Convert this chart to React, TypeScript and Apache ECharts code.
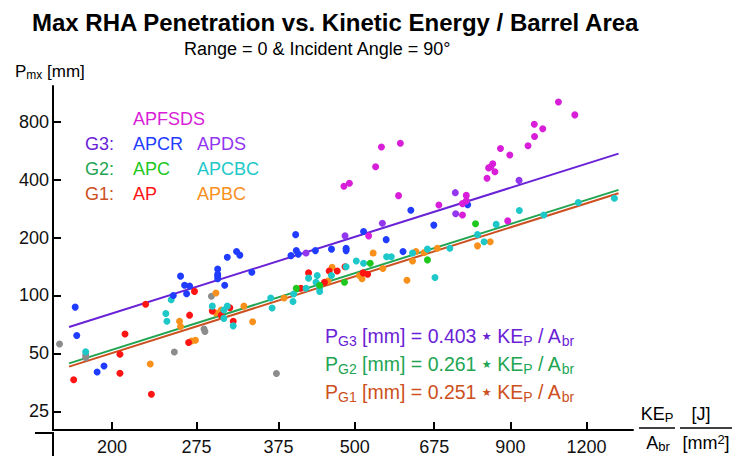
import React, { useEffect, useRef } from "react";
import * as echarts from "echarts";

const FONT = '"Liberation Sans", Arial, Helvetica, sans-serif';

// Axis tick labels
const xTicks = [200, 275, 375, 500, 675, 900, 1200];
const yTicks = [25, 50, 100, 200, 400, 800];

// [KE_P / A_br (J/mm^2), P_mx (mm)]
const apfsds = [
  [1079, 1011], [1148, 867], [985, 776], [1017, 735], [986, 670], [962, 600],
  [867, 580], [898, 537], [842, 483], [829, 460], [836, 466], [849, 439],
  [824, 406], [687, 295], [762, 331], [762, 310], [751, 300], [751, 262],
  [891, 244], [553, 590], [594, 617], [541, 466], [480, 369], [490, 383],
  [590, 330], [527, 204],
];
const apds = [[930, 396], [731, 342], [732, 266], [555, 237], [482, 204], [416, 166]];
const apcr = [
  [174, 87], [175, 62], [189, 40], [194, 43], [252, 100], [259, 126], [263, 113],
  [265, 102], [268, 112], [298, 137], [298, 129], [298, 126], [298, 122], [306, 113],
  [309, 158], [320, 169], [324, 162], [339, 132], [393, 161], [400, 207], [401, 171],
  [404, 164], [431, 171], [458, 174], [484, 176], [484, 171], [517, 215], [563, 195],
  [600, 169], [618, 277], [674, 232], [766, 296],
];
const ap = [
  [173, 36.5], [206, 49.5], [206, 39.4], [210, 63], [232, 30.7], [227, 90], [273, 105],
  [268, 79], [267, 57], [292, 83], [302, 79], [312, 86.4], [316, 73.4], [408, 109],
  [420, 131], [454, 134], [468, 134], [482, 141], [446, 117], [516, 131], [525, 129],
];
const apc = [[401, 109], [438, 113], [481, 117], [530, 147], [658, 153], [789, 236]];
const apcbc = [
  [181, 51], [245, 80.5], [246, 73.4], [250, 95], [292, 88], [305, 84], [309, 88],
  [305, 76], [316, 69.5], [364, 97], [366, 86], [396, 93], [397, 101.7], [416, 109],
  [420, 123], [434, 127], [458, 127], [484, 141], [503, 151], [517, 147], [564, 159],
  [574, 159], [622, 166], [658, 174], [677, 124], [438, 110], [438, 105], [432, 117],
  [716, 176], [795, 207], [815, 190], [853, 234], [931, 276], [1021, 262], [1163, 304],
  [1333, 320],
];
const apbc = [
  [231, 44], [258, 73.4], [259, 69], [270, 58], [274, 58.5], [296, 103], [296, 81],
  [302, 84], [329, 88], [340, 73], [383, 97], [452, 119], [459, 140], [509, 127],
  [514, 122], [536, 166], [556, 138], [609, 120], [622, 151], [630, 169], [650, 167],
  [683, 176], [795, 181], [834, 190],
];
const other = [[164, 56], [181, 49], [181, 47.5], [253, 50.8], [283, 67], [284, 65], [291, 99], [372, 39.3]];

// Fit lines P = k * KE/A
const coefG3 = 0.403;
const coefG2 = 0.261;
const coefG1 = 0.251;
const fitX = [170, 1354];

const C = {
  apfsds: "#d81ed8",
  apds: "#9336f0",
  apcr: "#1f3cff",
  ap: "#ff1414",
  apc: "#1ec81e",
  apcbc: "#1ec8c8",
  apbc: "#f8901c",
  other: "#8c8c8c",
  g3: "#6a22d6",
  g2: "#22a552",
  g1: "#cc5020",
};

function fitLine(k: number) {
  return fitX.map((x) => [x, k * x]);
}

export default function App() {
  const ref = useRef<HTMLDivElement>(null);
  useEffect(() => {
    if (!ref.current) return;
    const chart = echarts.init(ref.current, undefined, { renderer: "svg" });

    const scatter = (name: string, data: number[][], color: string) => ({
      name,
      type: "scatter",
      data,
      symbolSize: 7,
      itemStyle: { color, opacity: 1 },
      z: 3,
    });
    const line = (name: string, k: number, color: string) => ({
      name,
      type: "line",
      data: fitLine(k),
      symbol: "none",
      lineStyle: { color, width: 2 },
      z: 2,
    });

    const legendText = (x: number, y: number, text: string, color: string) => ({
      type: "text",
      x,
      y,
      style: { text, fill: color, font: `18px ${FONT}`, verticalAlign: "middle", textAlign: "left" },
    });

    const eq = (y: number, g: string, k: string, color: string) => ({
      type: "text",
      x: 325,
      y,
      style: {
        text: `{m|P}{s|${g}}{m| [mm] = ${k} }{st|★}{m| KE}{s|P}{m| / A}{s|br}`,
        verticalAlign: "middle",
        textAlign: "left",
        rich: {
          m: { fontSize: 19.5, fontFamily: FONT, fill: color, lineHeight: 24 },
          st: { fontSize: 11, fontFamily: '"DejaVu Sans", sans-serif', fill: color, lineHeight: 24 },
          s: { fontSize: 14, fontFamily: FONT, fill: color, lineHeight: 14, verticalAlign: "bottom" },
        },
      },
    });

    const frac = (x: number, y: number, text: string) => ({
      type: "text", x, y,
      style: {
        text, textAlign: "center", verticalAlign: "middle",
        rich: {
          m: { fontSize: 18, fontFamily: FONT, fill: "#000", lineHeight: 20 },
          s: { fontSize: 13, fontFamily: FONT, fill: "#000", lineHeight: 13, verticalAlign: "bottom" },
          p: { fontSize: 13, fontFamily: FONT, fill: "#000", lineHeight: 13, verticalAlign: "top" },
        },
      },
    });

    chart.setOption({
      animation: false,
      grid: { left: 53, right: 112, top: 86, bottom: 23, containLabel: false },
      xAxis: {
        type: "log",
        logBase: 10,
        min: 160,
        max: 1430,
        axisLine: { onZero: false, lineStyle: { color: "#000", width: 2 } },
        axisTick: { inside: true, length: 8, customValues: xTicks, lineStyle: { color: "#000", width: 2 } },
        axisLabel: {
          customValues: xTicks, fontSize: 18, color: "#111", margin: 8, fontFamily: FONT,
          formatter: (v: number) => String(Math.round(v)),
        },
        splitLine: { show: false },
        minorTick: { show: false },
      },
      yAxis: {
        type: "log",
        logBase: 10,
        min: 20,
        max: 1225,
        axisLine: { onZero: false, lineStyle: { color: "#000", width: 2 } },
        axisTick: { inside: true, length: 8, customValues: yTicks, lineStyle: { color: "#000", width: 2 } },
        axisLabel: {
          customValues: yTicks, fontSize: 18, color: "#111", margin: 4, fontFamily: FONT,
          formatter: (v: number) => String(Math.round(v)),
        },
        splitLine: { show: false },
        minorTick: { show: false },
      },
      series: [
        line("G3 fit", coefG3, C.g3),
        line("G2 fit", coefG2, C.g2),
        line("G1 fit", coefG1, C.g1),
        scatter("other", other, C.other),
        scatter("APBC", apbc, C.apbc),
        scatter("AP", ap, C.ap),
        scatter("APCBC", apcbc, C.apcbc),
        scatter("APC", apc, C.apc),
        scatter("APCR", apcr, C.apcr),
        scatter("APDS", apds, C.apds),
        scatter("APFSDS", apfsds, C.apfsds),
      ],
      graphic: [
        { type: "line", shape: { x1: 35, y1: 433, x2: 54, y2: 433 }, style: { stroke: "#000", lineWidth: 2 } },
        { type: "line", shape: { x1: 53, y1: 433, x2: 53, y2: 456 }, style: { stroke: "#000", lineWidth: 2 } },
        {
          type: "text", x: 32, y: 22,
          style: { text: "Max RHA Penetration vs. Kinetic Energy / Barrel Area", fill: "#000", font: `bold 24px ${FONT}`, verticalAlign: "middle" },
        },
        {
          type: "text", x: 184, y: 49,
          style: { text: "Range = 0 & Incident Angle = 90°", fill: "#000", font: `18px ${FONT}`, verticalAlign: "middle" },
        },
        {
          type: "text", x: 15, y: 71,
          style: {
            text: "{m|P}{s|mx}{m| [mm]}",
            verticalAlign: "middle",
            rich: {
              m: { fontSize: 17, fontFamily: FONT, fill: "#000", lineHeight: 20 },
              s: { fontSize: 12, fontFamily: FONT, fill: "#000", lineHeight: 12, verticalAlign: "bottom" },
            },
          },
        },
        legendText(133, 119, "APFSDS", C.apfsds),
        legendText(85, 144, "G3:", C.g3),
        legendText(133, 144, "APCR", C.apcr),
        legendText(197, 144, "APDS", C.apds),
        legendText(85, 169, "G2:", C.g2),
        legendText(133, 169, "APC", C.apc),
        legendText(197, 169, "APCBC", C.apcbc),
        legendText(85, 194, "G1:", C.g1),
        legendText(133, 194, "AP", C.ap),
        legendText(197, 194, "APBC", C.apbc),
        eq(336, "G3", "0.403", C.g3),
        eq(364, "G2", "0.261", C.g2),
        eq(392, "G1", "0.251", C.g1),
        frac(657, 414, "{m|KE}{s|P}"),
        { type: "line", shape: { x1: 639, y1: 428, x2: 675, y2: 428 }, style: { stroke: "#000", lineWidth: 1.5 } },
        frac(658, 443, "{m|A}{s|br}"),
        frac(701, 414, "{m|[J]}"),
        { type: "line", shape: { x1: 680, y1: 428, x2: 732, y2: 428 }, style: { stroke: "#000", lineWidth: 1.5 } },
        frac(706, 443, "{m|[mm}{p|2}{m|]}"),
      ],
    });
    return () => chart.dispose();
  }, []);

  return <div ref={ref} style={{ position: "absolute", left: 0, top: 0, width: 745, height: 456, background: "#fff" }} />;
}
